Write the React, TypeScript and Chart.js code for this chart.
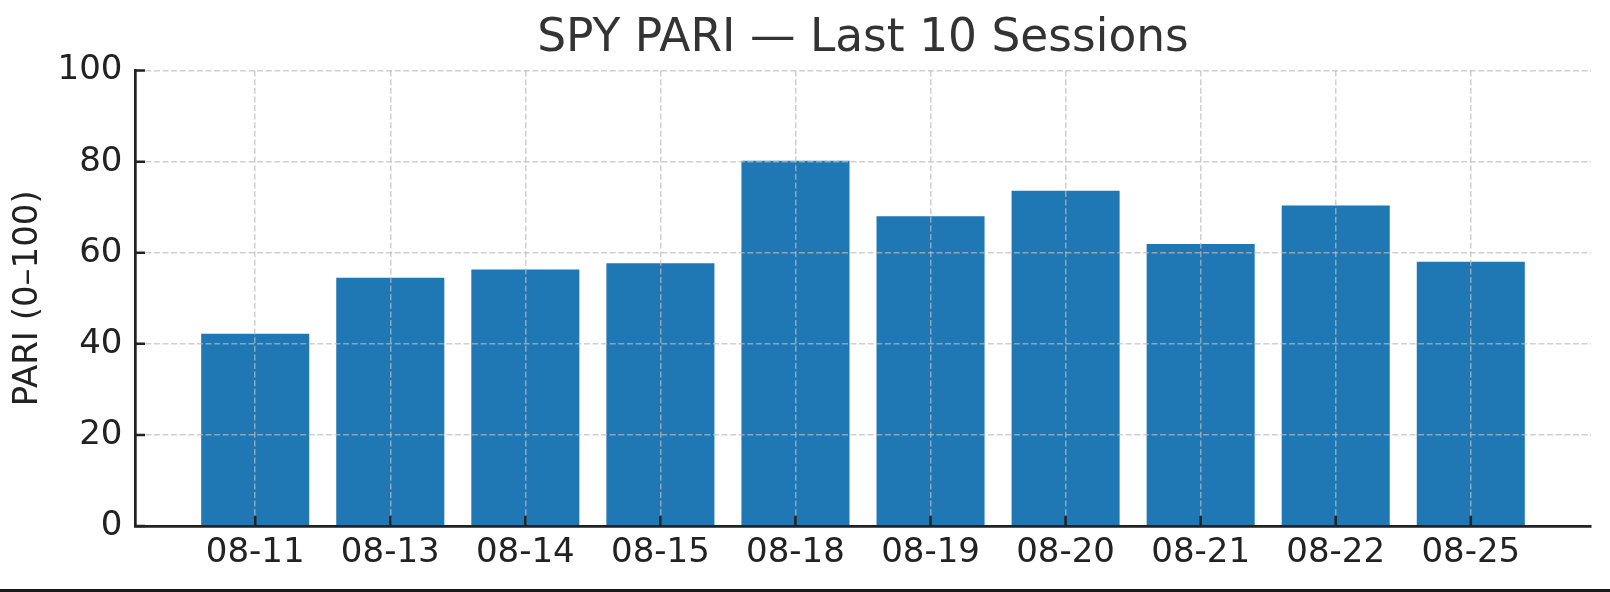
import React, { useEffect, useRef } from 'react';
import { Chart, registerables } from 'chart.js';

Chart.register(...registerables);

const sessions = ['08-11', '08-13', '08-14', '08-15', '08-18', '08-19', '08-20', '08-21', '08-22', '08-25'];
const pariValues = [42.2, 54.5, 56.3, 57.7, 80.2, 68.0, 73.6, 61.9, 70.4, 58.0];
const yTickValues = [0, 20, 40, 60, 80, 100];
const titleText = 'SPY PARI — Last 10 Sessions';
const yAxisLabel = 'PARI (0–100)';

const FONT = "'DejaVu Sans', 'Liberation Sans', sans-serif";
const GRID_COLOR = 'rgba(188,188,188,0.7)';
const AXIS_COLOR = '#222222';

const inwardTicks = {
  id: 'inwardTicks',
  afterDraw(chart: any) {
    const { ctx, chartArea, scales } = chart;
    ctx.save();
    ctx.strokeStyle = AXIS_COLOR;
    ctx.lineWidth = 2.5;
    ctx.beginPath();
    scales.x.ticks.forEach((t: any) => {
      const px = scales.x.getPixelForValue(t.value);
      ctx.moveTo(px, chartArea.bottom);
      ctx.lineTo(px, chartArea.bottom - 10);
    });
    scales.y.ticks.forEach((t: any) => {
      const py = scales.y.getPixelForValue(t.value);
      ctx.moveTo(chartArea.left, py);
      ctx.lineTo(chartArea.left + 10, py);
    });
    ctx.stroke();
    ctx.restore();
  },
};

export default function App() {
  const canvasRef = useRef<HTMLCanvasElement | null>(null);

  useEffect(() => {
    document.body.style.margin = '0';
    const canvas = canvasRef.current;
    if (!canvas) return;
    const chart = new Chart(canvas, {
      type: 'bar',
      data: {
        datasets: [
          {
            data: pariValues.map((v, i) => ({ x: i, y: v })),
            backgroundColor: '#1f77b4',
            borderWidth: 0,
            barPercentage: 0.8,
            categoryPercentage: 1.0,
          },
        ],
      },
      options: {
        animation: false,
        responsive: false,
        maintainAspectRatio: false,
        layout: { padding: { left: 0, right: 19, top: 0, bottom: 0 } },
        plugins: {
          legend: { display: false },
          tooltip: { enabled: false },
          title: {
            display: true,
            text: titleText,
            fullSize: false,
            color: '#333333',
            font: { family: FONT, size: 45.5, weight: 'normal' },
            padding: { top: 12, bottom: 4 },
          },
        },
        scales: {
          x: {
            type: 'linear',
            min: -0.89,
            max: 9.89,
            bounds: 'data',
            offset: false,
            afterBuildTicks: (s: any) => {
              s.ticks = sessions.map((_, i) => ({ value: i }));
            },
            afterFit: (s: any) => {
              s.height = 66;
            },
            ticks: {
              callback: (v: any) => sessions[v] ?? '',
              font: { family: FONT, size: 34 },
              color: AXIS_COLOR,
              padding: 7,
              maxRotation: 0,
              autoSkip: false,
            },
            grid: { color: GRID_COLOR, lineWidth: 1.5, drawTicks: false, offset: false, z: 1 },
            border: { display: true, color: AXIS_COLOR, width: 2.7, dash: [6, 2.6], z: 2 },
          },
          y: {
            min: 0,
            max: 100,
            afterBuildTicks: (s: any) => {
              s.ticks = yTickValues.map((v) => ({ value: v }));
            },
            afterFit: (s: any) => {
              s.width = 135;
            },
            ticks: {
              font: { family: FONT, size: 34 },
              color: AXIS_COLOR,
              padding: 12.5,
            },
            title: {
              display: true,
              text: yAxisLabel,
              color: AXIS_COLOR,
              font: { family: FONT, size: 34 },
              padding: { top: 8, bottom: 0 },
            },
            grid: { color: GRID_COLOR, lineWidth: 1.5, drawTicks: false, offset: false, z: 1 },
            border: { display: true, color: AXIS_COLOR, width: 2.7, dash: [6, 2.6], z: 2 },
          },
        },
      } as any,
      plugins: [inwardTicks],
    });
    return () => chart.destroy();
  }, []);

  return (
    <div style={{ position: 'relative', width: 1610, height: 592, background: '#ffffff' }}>
      <canvas ref={canvasRef} width={1610} height={592} style={{ display: 'block' }} />
      <div
        style={{
          position: 'absolute',
          left: 0,
          bottom: 0,
          width: 1610,
          height: 3,
          background: '#1a1a1a',
        }}
      />
    </div>
  );
}
